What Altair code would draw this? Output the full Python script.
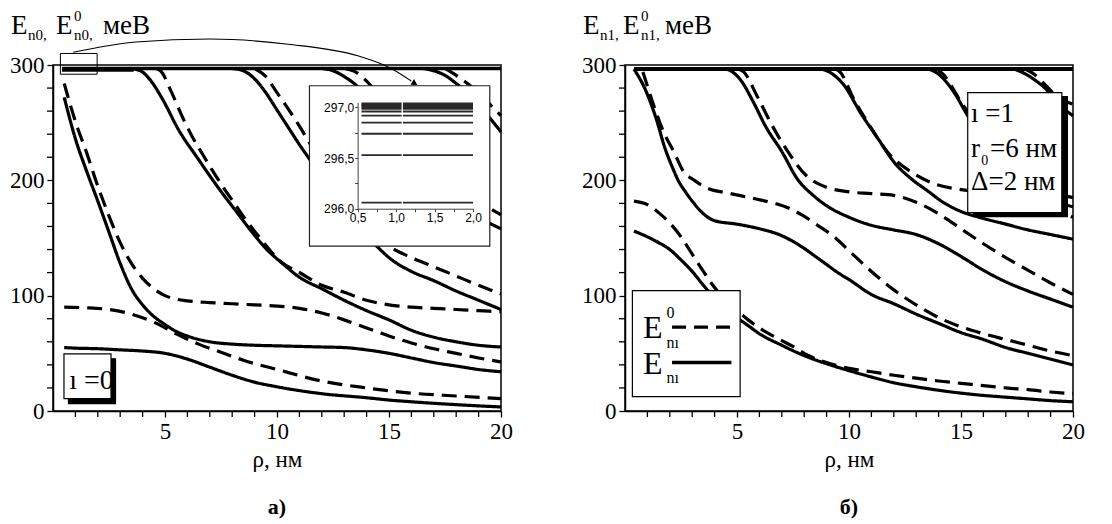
import altair as alt
import pandas as pd

FONT = "Liberation Serif, Times New Roman, serif"
INSET_FONT = "Liberation Sans Narrow, Liberation Sans, Arial, sans-serif"
W, H = 448, 346

# ---------------- panel a) : l = 0 ----------------
A_S0_X = [0.5, 1, 2, 3, 4, 5, 6, 7, 8, 9, 10, 12, 14, 15, 16, 18, 20]
A_S0_Y = [55, 54.5, 54, 53, 52, 50, 45, 38, 31, 25, 21, 15, 11.5, 9.5, 8, 5.5, 3.5]
A_D0_X = [0.5, 1.5, 2.5, 3.5, 4.5, 5.5, 6.5, 7.5, 8.5, 10, 12, 14, 15, 16, 18, 20]
A_D0_Y = [90, 89.5, 88, 84, 77, 67, 58, 51, 44, 36, 26, 20, 17.5, 15.5, 13, 10.7]
A_S1_X = [0.5, 1, 1.5, 2, 2.5, 3, 3.5, 4, 4.5, 5, 5.5, 6, 7, 8, 9, 10, 11, 12, 13, 14, 15, 16, 17, 18, 19, 20]
A_S1_Y = [272, 236, 208, 182, 155, 128, 106, 92, 82, 75, 69, 65, 60, 58, 57, 56.5, 56, 55.5, 55, 53, 50, 46, 42, 39, 36, 34]
A_D1_X = [0.5, 1, 1.5, 2, 2.5, 3, 3.5, 4, 4.5, 5, 5.5, 6, 7, 8, 9, 10, 11, 12, 13, 14, 15, 16, 17, 18, 19, 20]
A_D1_Y = [284, 251, 224, 195, 169, 146, 128, 115, 106, 100, 97, 95.5, 94, 93, 92, 91, 89, 85, 79, 72, 65, 59, 54, 50, 46, 42.5]
A_S2_X = [3.4, 3.9, 4.3, 4.9, 5.6, 6.5, 7.4, 8.3, 8.85, 9.5, 10.3, 11, 12, 13, 14, 15, 16, 17, 18, 19, 20]
A_S2_Y = [297, 295, 288, 270, 244, 218, 193, 170, 156, 141, 127, 116, 106, 96, 87, 79, 70, 64, 60, 57, 55.5]
A_D2_X = [4.6, 4.8, 5.3, 5.8, 6.2, 6.7, 7.1, 7.6, 8.1, 8.6, 9.2, 10.2, 11.1, 12, 13, 14, 15, 16, 17, 18, 19, 20]
A_D2_Y = [297, 295, 276, 254, 238.5, 222, 209, 194, 180, 166, 151, 129, 119, 109, 103, 96, 92, 90, 89, 88, 87, 86]
A_S3_X = [8, 8.5, 9, 9.5, 10, 10.5, 11, 11.5, 12, 12.5, 13, 13.5, 14, 14.5, 15, 16, 17, 18, 19, 20]
A_S3_Y = [297, 295, 288, 276, 261, 246, 231, 217, 203, 189, 176, 164, 152, 142, 133, 121, 113, 104, 96, 88]
A_D3_X = [9, 9.5, 10, 10.5, 11, 11.5, 12, 12.5, 13, 13.5, 14, 14.5, 15, 16, 17, 18, 19, 20]
A_D3_Y = [297, 290, 276, 262, 247, 231, 216, 200, 186, 173, 161, 151, 143, 133, 125, 117, 109, 101.5]
A_S4_X = [12, 12.5, 13, 13.5, 14, 14.5, 15, 15.5, 16, 16.5, 17, 17.5, 18, 19, 20]
A_S4_Y = [297, 295, 290, 283, 273, 260, 247, 234, 221, 209, 198, 189, 181, 168, 158]
A_D4_X = [13, 13.5, 14, 14.5, 15, 15.5, 16, 16.5, 17, 17.5, 18, 19, 20]
A_D4_Y = [297, 294, 286, 275, 263, 251, 239, 227, 216, 206, 197, 182, 170]
A_S5_X = [16.5, 17, 17.5, 18, 18.5, 19, 19.5, 20]
A_S5_Y = [297, 295, 291, 284, 276, 265, 254, 242]
A_D5_X = [17.5, 18, 18.5, 19, 19.5, 20]
A_D5_Y = [297, 291, 284, 276, 266, 256]
A_TOP_X = [0.4, 20]
A_TOP_Y = [297, 297]
A_BAND_X = [0.4, 3.6]
A_BAND_Y = [295.6, 295.6]

# inset of panel a): levels near 296-297 meV for rho = 0.5 ... 2 nm
INSET_LEVELS = [296.06, 296.53, 296.74, 296.85, 296.92, 296.96, 296.985, 297.0,
                297.01, 297.02, 297.03, 297.04]
INSET_X = [0.55, 2.0]
INSET_GAP = 1.08

# arrow from the small frame to the inset
ARROW_X = [0.9, 3.7, 7.0, 10.5, 13.6, 15.1, 16.0]
ARROW_Y = [311, 320, 322.5, 318, 308, 297, 286]

# ---------------- panel б) : l = 1 ----------------
B_S0_X = [0.4, 1, 1.5, 2, 2.5, 3, 3.5, 4, 4.5, 5, 5.5, 6, 7, 8, 9, 10, 11, 12, 13, 14, 15, 16, 17, 18, 19, 20]
B_S0_Y = [156, 151, 146, 140, 131, 121, 109, 98, 89, 81, 74, 67, 57, 48, 41, 35, 29.5, 24.5, 21, 18, 15.5, 13.5, 12, 10.5, 9, 8]
B_D0_X = [0.4, 1, 1.5, 2, 2.5, 3, 3.5, 4, 4.5, 5, 5.5, 6, 7, 7.5, 8, 9, 10, 11, 12, 13, 14, 15, 16, 17, 18, 19, 20]
B_D0_Y = [182, 179, 172, 163, 151, 136, 121, 107, 96, 87, 79, 72, 61, 56, 50, 42, 37, 34, 31, 28.5, 26, 24, 22, 20, 18.5, 16.5, 15]
B_S1_X = [0.4, 0.9, 1.35, 1.8, 2.1, 2.4, 2.7, 3, 3.5, 4, 5, 6, 7, 7.5, 8, 8.5, 9, 9.5, 10, 11, 12, 13, 14, 15, 16, 17, 18, 19, 20]
B_S1_Y = [296.5, 279, 256, 227, 212, 199, 190, 182, 171, 165, 162, 158, 152, 147, 141, 134, 127, 120, 114, 101, 93, 84, 76, 68, 62, 55, 50, 45, 40]
B_D1_X = [0.8, 1.3, 1.7, 2.2, 2.6, 3.1, 3.7, 4.6, 5.8, 6.7, 7.3, 7.9, 8.6, 9.4, 10, 11, 12, 13, 14, 15, 16, 17, 18, 19, 20]
B_D1_Y = [294, 264, 243, 224, 208, 200, 193, 189, 184, 180, 176, 170, 161, 150, 139, 121, 105, 92, 81, 73, 67, 62, 57, 52, 48]
B_S2_X = [4.4, 4.8, 5.2, 5.7, 6.3, 7.0, 7.7, 8.4, 9.0, 10, 11, 12, 13, 14, 15, 16, 17, 18, 19, 20]
B_S2_Y = [297, 294, 286, 269, 246, 225, 201, 187, 178, 168, 161, 157, 153, 145, 134, 122, 112, 104, 97, 90]
B_D2_X = [5.0, 5.3, 5.9, 6.5, 7.2, 8.1, 9, 10, 11, 12, 13, 14, 15, 16, 17, 18, 19, 20]
B_D2_Y = [297, 294, 273, 250, 227, 204, 194, 190, 188.5, 187, 181, 171, 158, 145, 133, 122, 111, 101]
B_S3_X = [8.7, 9.2, 9.8, 10.5, 11.3, 12, 12.8, 13.5, 14.2, 15, 16, 17, 18, 19, 20]
B_S3_Y = [297, 293, 282, 259, 236, 216, 201, 191, 181, 173, 167, 162, 157, 153, 149]
B_D3_X = [9.3, 9.6, 10.2, 11, 11.7, 12.8, 13.8, 15, 16, 17, 18, 19, 20]
B_D3_Y = [297, 294, 271, 245, 225, 207, 197, 192, 190, 187, 181, 175, 168]
B_S4_X = [13.5, 14, 14.7, 15.3, 16, 16.8, 17.7, 18.7, 20]
B_S4_Y = [297, 292, 276, 256, 236, 215, 198, 186, 177]
B_D4_X = [13.9, 14.2, 15, 15.7, 16.4, 17.3, 18.5, 20]
B_D4_Y = [297, 292, 268, 248, 228, 208, 194, 185]
B_S5_X = [17.3, 17.8, 18.3, 18.8, 19.2, 19.6, 20]
B_S5_Y = [297, 293, 287, 279, 270, 262, 256]
B_D5_X = [17.8, 18.2, 18.7, 19.1, 19.5, 20]
B_D5_Y = [297, 293, 284, 276, 270, 266]
B_TOP_X = [0.4, 20]
B_TOP_Y = [296.5, 296.5]

X_MAJOR = [5, 10, 15, 20]
X_MINOR = [v for v in range(1, 21) if v % 5 != 0]
Y_MAJOR = [0, 100, 200, 300]
Y_MINOR = [v for v in range(20, 300, 20) if v % 100 != 0]


def table(curves):
    rows = []
    for name, xs, ys, kind in curves:
        for x, y in zip(xs, ys):
            rows.append({"curve": name, "kind": kind, "x": x, "y": y})
    return pd.DataFrame(rows)


def px(v):
    return W * v / 20.0


def py(v):
    return H * (1 - v / 300.0)


ONE = pd.DataFrame({"k": [0]})

XS = alt.Scale(domain=[0, 20], nice=False, zero=False)
YS = alt.Scale(domain=[0, 300], nice=False, zero=False)
TICK = 6

XAXIS = alt.Axis(values=X_MAJOR, title="ρ, нм", titleFont=FONT, titleFontSize=23,
                 titleFontWeight="normal", titleColor="black", titlePadding=5, labelFont=FONT,
                 labelFontSize=23, labelColor="black", tickColor="black", domainColor="black",
                 tickSize=TICK, tickWidth=1.3, domainWidth=1.5, grid=False, labelPadding=3,
                 labelOverlap=False, labelFlush=False, format="d")
YAXIS = alt.Axis(values=Y_MAJOR, title=None, labelFont=FONT, labelFontSize=23, labelColor="black",
                 tickColor="black", domainColor="black", tickSize=TICK, tickWidth=1.3,
                 domainWidth=1.5, grid=False, labelPadding=3, labelOverlap=False, format="d")


def curves_chart(df, width=3.2):
    return alt.Chart(df).mark_line(interpolate="monotone", strokeWidth=width, color="black",
                                   strokeCap="butt", strokeJoin="round").encode(
        x=alt.X("x:Q", scale=XS, axis=XAXIS),
        y=alt.Y("y:Q", scale=YS, axis=YAXIS),
        detail="curve:N",
        strokeDash=alt.StrokeDash("kind:N", scale=alt.Scale(domain=["E0", "E"], range=[[15, 8], [1, 0]]),
                                  legend=None),
    )


def minor_ticks():
    xm = alt.Chart(pd.DataFrame({"t": X_MINOR})).mark_rule(color="black", strokeWidth=1.3).encode(
        x=alt.X("t:Q", scale=XS), y=alt.value(H), y2=alt.value(H + TICK))
    ym = alt.Chart(pd.DataFrame({"t": Y_MINOR})).mark_rule(color="black", strokeWidth=1.3).encode(
        y=alt.Y("t:Q", scale=YS), x=alt.value(0), x2=alt.value(-TICK))
    return [xm, ym]


def note(text, x, y, size, font=FONT, **kw):
    return alt.Chart(ONE).mark_text(text=text, fontSize=size, font=font, align="left",
                                    baseline="alphabetic", color="black", **kw).encode(
        x=alt.datum(x), y=alt.datum(y))


def pnote(text, x, y, size, **kw):
    return alt.Chart(ONE).mark_text(text=text, fontSize=size, font=FONT, align="left",
                                    baseline="alphabetic", color="black", **kw).encode(
        x=alt.value(x), y=alt.value(y))


def box(x1, x2, y1, y2, fill="white", stroke="black", sw=1.2):
    return alt.Chart(ONE).mark_rect(fill=fill, stroke=stroke, strokeWidth=sw).encode(
        x=alt.datum(x1), x2=alt.datum(x2), y=alt.datum(y1), y2=alt.datum(y2))


def title_parts(sub, x_sub, x_e2, x_sup, x_unit):
    return [
        pnote("E", -42, -31, 27),
        pnote(sub + ",", x_sub, -25, 15),
        pnote("E", x_e2, -31, 27),
        pnote("0", x_sup, -44, 15),
        pnote(sub + ",", x_sup, -25, 15),
        pnote("меВ", x_unit, -31, 27),
    ]


# ---------------- build panel a) ----------------
df_a = table([
    ("s0", A_S0_X, A_S0_Y, "E"), ("d0", A_D0_X, A_D0_Y, "E0"),
    ("s1", A_S1_X, A_S1_Y, "E"), ("d1", A_D1_X, A_D1_Y, "E0"),
    ("s2", A_S2_X, A_S2_Y, "E"), ("d2", A_D2_X, A_D2_Y, "E0"),
    ("s3", A_S3_X, A_S3_Y, "E"), ("d3", A_D3_X, A_D3_Y, "E0"),
    ("s4", A_S4_X, A_S4_Y, "E"), ("d4", A_D4_X, A_D4_Y, "E0"),
    ("s5", A_S5_X, A_S5_Y, "E"), ("d5", A_D5_X, A_D5_Y, "E0"),
])
top_a = table([("top", A_TOP_X, A_TOP_Y, "E"), ("band", A_BAND_X, A_BAND_Y, "E")])
arrow_df = pd.DataFrame({"x": ARROW_X, "y": ARROW_Y})

arrow_line = alt.Chart(arrow_df).mark_line(interpolate="monotone", color="black", strokeWidth=1.1).encode(
    x=alt.X("x:Q", scale=XS), y=alt.Y("y:Q", scale=YS))
arrow_head = alt.Chart(ONE).mark_point(shape="triangle-down", filled=True, size=45, color="black",
                                       opacity=1, angle=302).encode(
    x=alt.datum(16.15), y=alt.datum(284))

main_a = alt.layer(
    curves_chart(df_a),
    curves_chart(top_a, width=3.4),
    *minor_ticks(),
    box(0.69, 2.79, 6.4, 45.3, fill="black", stroke="black"),
    box(0.49, 2.59, 10.7, 49.6),
    note("ı =0", 0.72, 19, 28),
    alt.Chart(ONE).mark_rect(fill=None, stroke="black", strokeWidth=1).encode(
        x=alt.datum(0.33), x2=alt.datum(1.97), y=alt.datum(292), y2=alt.datum(310)),
    arrow_line, arrow_head,
    box(11.45, 19.5, 143, 282, stroke="#222", sw=1.2),
    *title_parts("n0", -25, 3, 21, 50),
)

inset_df = pd.DataFrame([{"level": i, "x": x, "y": lv}
                         for i, lv in enumerate(INSET_LEVELS) for x in INSET_X])
IN_LAB = "(datum.value * 2) % 1 == 0 ? replace(format(datum.value, '.1f'), '.', ',') : ''"
IXS = alt.Scale(domain=[0.5, 2.0], range=[px(13.6), px(18.75)], nice=False, zero=False)
IYS = alt.Scale(domain=[296.0, 297.05], range=[py(175.4), py(267.6)], nice=False, zero=False)
inset_lines = alt.Chart(inset_df).mark_line(color="#2a2a2a", strokeWidth=1.8).encode(
    x=alt.X("x:Q", scale=IXS,
            axis=alt.Axis(orient="bottom", offset=-(H - py(175.4)), values=[0.5, 0.75, 1, 1.25, 1.5, 1.75, 2.0],
                          labelExpr=IN_LAB, title=None, labelFont=INSET_FONT, labelFontSize=12,
                          labelColor="black", tickColor="#444", domainColor="#444", tickSize=3,
                          domainWidth=1, labelPadding=1, grid=False, labelOverlap=False, labelFlush=False,
                          zindex=1)),
    y=alt.Y("y:Q", scale=IYS,
            axis=alt.Axis(orient="left", offset=-px(13.6), values=[296.0, 296.25, 296.5, 296.75, 297.0],
                          labelExpr=IN_LAB, title=None, labelFont=INSET_FONT, labelFontSize=12,
                          labelColor="black", tickColor="#444", domainColor="#444", tickSize=3,
                          domainWidth=1, labelPadding=1, grid=False, labelOverlap=False, zindex=1)),
    detail="level:N",
)
inset_gap = alt.Chart(ONE).mark_rule(color="white", strokeWidth=1.3).encode(
    x=alt.datum(INSET_GAP), y=alt.datum(296.02), y2=alt.datum(297.06))
inset = alt.layer(inset_lines, inset_gap)

panel_a = alt.layer(main_a, inset).resolve_scale(x="independent", y="independent").properties(
    width=W, height=H,
    title=alt.TitleParams("а)", orient="bottom", font=FONT, fontSize=22, fontWeight="bold",
                          color="black", offset=26, anchor="middle"))

# ---------------- build panel б) ----------------
df_b = table([
    ("s0", B_S0_X, B_S0_Y, "E"), ("d0", B_D0_X, B_D0_Y, "E0"),
    ("s1", B_S1_X, B_S1_Y, "E"), ("d1", B_D1_X, B_D1_Y, "E0"),
    ("s2", B_S2_X, B_S2_Y, "E"), ("d2", B_D2_X, B_D2_Y, "E0"),
    ("s3", B_S3_X, B_S3_Y, "E"), ("d3", B_D3_X, B_D3_Y, "E0"),
    ("s4", B_S4_X, B_S4_Y, "E"), ("d4", B_D4_X, B_D4_Y, "E0"),
    ("s5", B_S5_X, B_S5_Y, "E"), ("d5", B_D5_X, B_D5_Y, "E0"),
])
top_b = table([("top", B_TOP_X, B_TOP_Y, "E")])

legend_lines = [
    alt.Chart(ONE).mark_rule(color="black", strokeWidth=3.4, strokeDash=[14, 8], strokeCap="butt").encode(
        x=alt.datum(2.1), x2=alt.datum(4.75), y=alt.datum(72.7)),
    alt.Chart(ONE).mark_rule(color="black", strokeWidth=3.4).encode(
        x=alt.datum(2.1), x2=alt.datum(4.75), y=alt.datum(42)),
]

panel_b = alt.layer(
    curves_chart(df_b),
    curves_chart(top_b, width=4),
    *minor_ticks(),
    # legend box
    box(0.33, 5.14, 12.4, 104.3),
    note("E", 0.8, 63, 32),
    note("0", 1.85, 81, 16),
    note("nı", 1.85, 55, 16),
    note("E", 0.8, 32, 32),
    note("nı", 1.85, 24, 16),
    *legend_lines,
    # parameter box with shadow
    box(15.55, 19.75, 168.5, 272.5, fill="black", stroke="black"),
    box(15.3, 19.5, 172, 276),
    note("ı =1", 15.45, 251, 27),
    note("r", 15.45, 220, 27),
    note("0", 15.9, 213, 14),
    note("=6 нм", 16.3, 220, 27),
    note("Δ=2 нм", 15.45, 192, 27),
    *title_parts("n1", -25, -2, 16, 40),
).properties(
    width=W, height=H,
    title=alt.TitleParams("б)", orient="bottom", font=FONT, fontSize=22, fontWeight="bold",
                          color="black", offset=26, anchor="middle"))

chart = alt.hconcat(panel_a, panel_b, spacing=66).configure_view(
    stroke="black", strokeWidth=1.5).configure_axis(labelOverlap=False).properties(
    padding={"left": 0, "top": 0, "right": 0, "bottom": 0}, background="white")

chart.save("out.html", embed_options={"renderer": "svg", "actions": False})
